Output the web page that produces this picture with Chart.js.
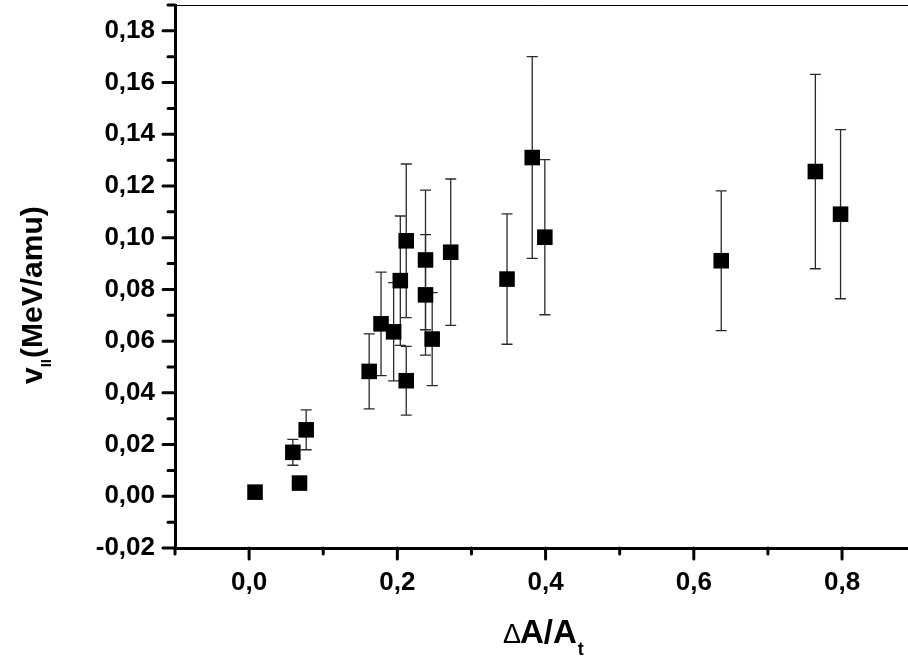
<!DOCTYPE html>
<html>
<head>
<meta charset="utf-8">
<title>v vs dA/At</title>
<script src="https://cdn.jsdelivr.net/npm/chart.js@4.4.1/dist/chart.umd.min.js"></script>
<style>
    html, body { margin: 0; padding: 0; background: #fff; }
    canvas { display: block; }
</style>
</head>
<body>
<canvas id="chartCanvas" width="908" height="662"></canvas>
<script>
const xValues = [0.008, 0.068, 0.059, 0.077, 0.162, 0.178, 0.195, 0.204, 0.212, 0.212,
                 0.238, 0.238, 0.247, 0.272, 0.348, 0.382, 0.399, 0.637, 0.764, 0.798];
const yValues = [0.0016, 0.0051, 0.0170, 0.0257, 0.0483, 0.0667, 0.0636, 0.0834, 0.0988, 0.0447,
                 0.0914, 0.0779, 0.0608, 0.0944, 0.0840, 0.1310, 0.1002, 0.0911, 0.1256, 0.1091];
const yErrors = [0, 0, 0.0050, 0.0077, 0.0145, 0.0200, 0.0190, 0.0250, 0.0297, 0.0133,
                 0.0270, 0.0233, 0.0180, 0.0283, 0.0252, 0.0390, 0.0300, 0.0270, 0.0376, 0.0327];

const xMajorTicks = [0.0, 0.2, 0.4, 0.6, 0.8];
const xMinorTicks = [-0.1, 0.1, 0.3, 0.5, 0.7];
const yMajorTicks = [-0.02, 0.00, 0.02, 0.04, 0.06, 0.08, 0.10, 0.12, 0.14, 0.16, 0.18];
const yMinorTicks = [-0.01, 0.01, 0.03, 0.05, 0.07, 0.09, 0.11, 0.13, 0.15, 0.17, 0.19];

const xMin = -0.1, xMax = 0.889;
const yMin = -0.02, yMax = 0.19;

const points = xValues.map((x, i) => ({ x: x, y: yValues[i] }));

// error bars drawn through the chart scales
const errorBarPlugin = {
    id: 'errorBars',
    beforeDatasetsDraw(chart) {
        const ctx = chart.ctx;
        const xs = chart.scales.x, ys = chart.scales.y;
        ctx.save();
        ctx.strokeStyle = '#2a2a2a';
        ctx.lineWidth = 1.3;
        yErrors.forEach((err, i) => {
            if (!err) return;
            const px = xs.getPixelForValue(xValues[i]);
            const top = ys.getPixelForValue(yValues[i] + err);
            const bot = ys.getPixelForValue(yValues[i] - err);
            ctx.beginPath();
            ctx.moveTo(px, top); ctx.lineTo(px, bot);
            ctx.moveTo(px - 5.5, top); ctx.lineTo(px + 5.5, top);
            ctx.moveTo(px - 5.5, bot); ctx.lineTo(px + 5.5, bot);
            ctx.stroke();
        });
        ctx.restore();
    }
};

// outward tick marks, top frame line and axis titles
const axisDecorPlugin = {
    id: 'axisDecor',
    afterDraw(chart) {
        const ctx = chart.ctx;
        const area = chart.chartArea;
        const xs = chart.scales.x, ys = chart.scales.y;
        ctx.save();
        ctx.strokeStyle = '#000';
        ctx.lineWidth = 3;
        ctx.lineCap = 'round';
        ctx.beginPath();
        xMajorTicks.forEach(v => {
            const px = xs.getPixelForValue(v);
            ctx.moveTo(px, area.bottom); ctx.lineTo(px, area.bottom + 11);
        });
        xMinorTicks.forEach(v => {
            const px = xs.getPixelForValue(v);
            ctx.moveTo(px, area.bottom); ctx.lineTo(px, area.bottom + 6);
        });
        yMajorTicks.forEach(v => {
            const py = ys.getPixelForValue(v);
            ctx.moveTo(area.left, py); ctx.lineTo(area.left - 12, py);
        });
        yMinorTicks.forEach(v => {
            const py = ys.getPixelForValue(v);
            ctx.moveTo(area.left, py); ctx.lineTo(area.left - 7, py);
        });
        ctx.stroke();

        // thin top frame
        ctx.lineWidth = 1;
        ctx.lineCap = 'butt';
        ctx.beginPath();
        ctx.moveTo(area.left, area.top + 0.5);
        ctx.lineTo(chart.width, area.top + 0.5);
        ctx.stroke();

        ctx.fillStyle = '#000';
        ctx.textBaseline = 'alphabetic';
        ctx.textAlign = 'left';

        // x title: ΔA/A with subscript t
        let tx = 503;
        const ty = 643;
        ctx.font = '27px "Liberation Sans", Arial, sans-serif';
        ctx.fillText('\u0394', tx, ty);
        tx += ctx.measureText('\u0394').width - 1;
        ctx.font = 'bold 33px "Liberation Sans", Arial, sans-serif';
        ctx.fillText('A/A', tx, ty);
        tx += ctx.measureText('A/A').width + 1;
        ctx.font = 'bold 18px "Liberation Sans", Arial, sans-serif';
        ctx.fillText('t', tx, ty + 12);

        // y title, rotated: v with subscript II, then (MeV/amu)
        ctx.translate(42, 384);
        ctx.rotate(-Math.PI / 2);
        let ly = 0;
        ctx.font = 'bold 30px "Liberation Sans", Arial, sans-serif';
        ctx.fillText('v', ly, 0);
        ly += ctx.measureText('v').width;
        ctx.font = 'bold 15px "Liberation Sans", Arial, sans-serif';
        ctx.fillText('II', ly, 9);
        ly += ctx.measureText('II').width + 1;
        ctx.font = 'bold 30px "Liberation Sans", Arial, sans-serif';
        ctx.fillText('(MeV/amu)', ly, 0);
        ctx.restore();
    }
};

const tickFont = { family: '"Liberation Sans", Arial, sans-serif', size: 26, weight: 'bold' };

const chart = new Chart(document.getElementById('chartCanvas').getContext('2d'), {
    type: 'scatter',
    data: {
        datasets: [{
            label: 'data',
            data: points,
            pointStyle: 'rect',
            pointRadius: 11,
            pointHoverRadius: 11,
            backgroundColor: '#000',
            borderWidth: 0
        }]
    },
    options: {
        responsive: false,
        animation: false,
        events: [],
        layout: { autoPadding: false, padding: { top: 5, right: 0, left: 0, bottom: 0 } },
        plugins: {
            legend: { display: false },
            tooltip: { enabled: false },
            title: { display: false }
        },
        scales: {
            x: {
                type: 'linear',
                min: xMin,
                max: xMax,
                afterBuildTicks: scale => { scale.ticks = xMajorTicks.map(v => ({ value: v })); },
                afterFit: scale => {
                    scale.height = 114;
                    scale.paddingLeft = 0;
                    scale.paddingRight = 0;
                },
                grid: { display: false, drawTicks: false },
                border: { display: true, color: '#000', width: 3 },
                ticks: {
                    color: '#000',
                    font: tickFont,
                    padding: 19,
                    maxRotation: 0,
                    autoSkip: false,
                    callback: v => v.toFixed(1).replace('.', ',')
                }
            },
            y: {
                type: 'linear',
                min: yMin,
                max: yMax,
                afterBuildTicks: scale => { scale.ticks = yMajorTicks.map(v => ({ value: v })); },
                afterFit: scale => {
                    scale.width = 175;
                    scale.paddingTop = 0;
                    scale.paddingBottom = 0;
                },
                grid: { display: false, drawTicks: false },
                border: { display: true, color: '#000', width: 3 },
                ticks: {
                    color: '#000',
                    font: tickFont,
                    padding: 20,
                    autoSkip: false,
                    callback: v => v.toFixed(2).replace('.', ',')
                }
            }
        }
    },
    plugins: [errorBarPlugin, axisDecorPlugin]
});
</script>
</body>
</html>
